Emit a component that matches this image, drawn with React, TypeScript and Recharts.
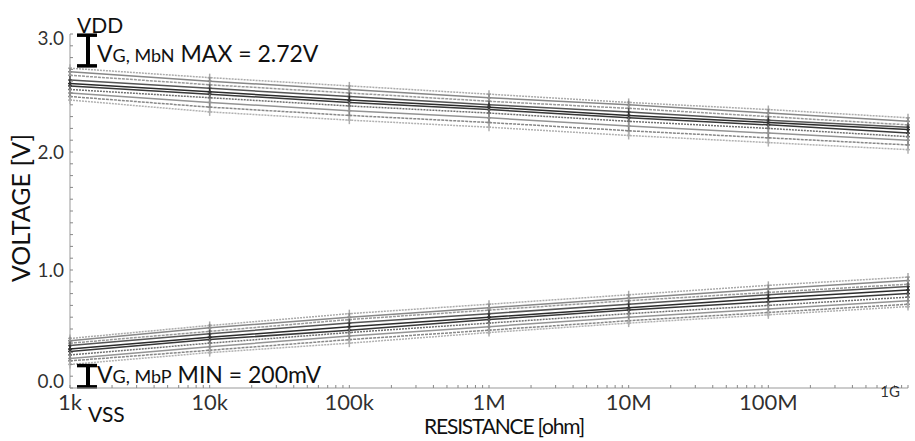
import { LineChart, Line, XAxis, YAxis, ReferenceLine } from 'recharts';

// resistance sweep points (ohm)
const RESISTANCE = [1e3, 1e4, 1e5, 1e6, 1e7, 1e8, 1e9];
const DECADE_LABELS = ['1k', '10k', '100k', '1M', '10M', '100M', '1G'];
const Y_LABELS = [0, 1, 2, 3];

// upper band: V_G of MbN, one list per corner/run
const UPPER = [
  [2.71, 2.63, 2.56, 2.49, 2.42, 2.36, 2.29],
  [2.68, 2.60, 2.53, 2.46, 2.40, 2.33, 2.26],
  [2.65, 2.57, 2.50, 2.43, 2.37, 2.30, 2.23],
  [2.61, 2.54, 2.47, 2.40, 2.34, 2.27, 2.21],
  [2.58, 2.51, 2.44, 2.38, 2.31, 2.25, 2.19],
  [2.56, 2.49, 2.42, 2.36, 2.29, 2.23, 2.16],
  [2.53, 2.46, 2.39, 2.33, 2.26, 2.20, 2.13],
  [2.50, 2.42, 2.35, 2.29, 2.22, 2.16, 2.10],
  [2.47, 2.38, 2.31, 2.25, 2.18, 2.12, 2.06],
  [2.44, 2.34, 2.27, 2.21, 2.14, 2.08, 2.02],
];

// lower band: V_G of MbP
const LOWER = [
  [0.42, 0.53, 0.63, 0.71, 0.79, 0.87, 0.94],
  [0.40, 0.51, 0.60, 0.68, 0.76, 0.84, 0.91],
  [0.38, 0.48, 0.58, 0.66, 0.74, 0.81, 0.88],
  [0.36, 0.46, 0.55, 0.63, 0.71, 0.79, 0.86],
  [0.33, 0.43, 0.52, 0.60, 0.68, 0.76, 0.83],
  [0.31, 0.41, 0.49, 0.58, 0.66, 0.73, 0.80],
  [0.28, 0.38, 0.47, 0.55, 0.63, 0.70, 0.77],
  [0.25, 0.35, 0.44, 0.52, 0.60, 0.67, 0.74],
  [0.23, 0.32, 0.41, 0.49, 0.57, 0.64, 0.71],
  [0.20, 0.30, 0.38, 0.47, 0.55, 0.62, 0.69],
];

const VG_MBN_MAX = 2.72;
const VG_MBP_MIN = 0.2;
const VDD = 3.0;
const VSS = 0.0;

const SHADES = ['#aaa', '#888', '#999', '#555', '#2a2a2a', '#383838', '#707070', '#949494', '#888', '#b0b0b0'];
const DASHES = ['2 1', undefined, '3 1', undefined, undefined, undefined, '2 1', undefined, '3 1', '2 1'];

const data = RESISTANCE.map((r, i) => {
  const row: Record<string, number> = { r };
  UPPER.forEach((s, k) => (row['u' + k] = s[i]));
  LOWER.forEach((s, k) => (row['l' + k] = s[i]));
  return row;
});

const xTicks: number[] = [];
RESISTANCE.forEach((d, i) => {
  xTicks.push(d);
  if (i < RESISTANCE.length - 1) for (let m = 2; m <= 9; m++) xTicks.push(d * m);
});
const yTicks: number[] = [];
for (let i = 0; i <= 30; i++) yTicks.push(i / 10);

const FONT = 'Lato, "Open Sans", sans-serif';
const labelStyle = { fontFamily: FONT, fontWeight: 400, fill: '#000', fillOpacity: 0.82, stroke: 'none' };

const XTick = (props: any) => {
  const { x, y, payload } = props;
  const idx = RESISTANCE.indexOf(payload.value);
  return (
    <g>
      <line x1={x} x2={x} y1={y} y2={y - 3} stroke="#888" />
      {idx === 6 ? (
        <text x={x - 8} y={y + 9} textAnchor="end" fontSize={15} style={labelStyle}>{DECADE_LABELS[idx]}</text>
      ) : idx >= 0 ? (
        <text x={x} y={y + 22} textAnchor="middle" fontSize={22} style={labelStyle}>{DECADE_LABELS[idx]}</text>
      ) : null}
    </g>
  );
};

const YTick = (props: any) => {
  const { x, y, payload } = props;
  const v = Math.round(payload.value * 10) / 10;
  const isMajor = Y_LABELS.includes(v);
  const dy = v === 0 ? 0 : v === 3 ? 11 : 7;
  return (
    <g>
      <line x1={x} x2={x + 3} y1={y} y2={y} stroke="#888" />
      {isMajor && (
        <text x={x - 6} y={y + dy} textAnchor="end" fontSize={19} style={labelStyle}>{v.toFixed(1)}</text>
      )}
    </g>
  );
};

const CrossDot = (props: any) => {
  const { cx, cy, stroke } = props;
  if (cx == null || cy == null) return null;
  return (
    <g>
      <line x1={cx} x2={cx} y1={cy - 4} y2={cy + 4} stroke={stroke} strokeWidth={1.5} />
      <line x1={cx - 2} x2={cx + 2} y1={cy} y2={cy} stroke={stroke} strokeWidth={1.5} />
    </g>
  );
};

// x positions of the I-beam markers, just right of 1k
const BEAM_X = 1345;
const BEAM_L = 1122;
const BEAM_R = 1560;

const App = () => {
  return (
    <div style={{ position: 'absolute', left: 0, top: 0, width: 915, height: 441 }}>
      <LineChart width={915} height={441} data={data} margin={{ top: 34, right: 7, bottom: 0, left: 0 }}>
        <XAxis
          dataKey="r"
          type="number"
          scale="log"
          domain={[1e3, 1e9]}
          ticks={xTicks}
          interval={0}
          tick={<XTick />}
          tickLine={false}
          tickSize={0}
          tickMargin={0}
          axisLine={{ stroke: '#999' }}
          height={53}
        />
        <YAxis
          type="number"
          domain={[0, 3]}
          ticks={yTicks}
          interval={0}
          tick={<YTick />}
          tickLine={false}
          tickSize={0}
          tickMargin={0}
          axisLine={{ stroke: '#999' }}
          width={70}
        />
        {UPPER.map((_, k) => (
          <Line key={'u' + k} dataKey={'u' + k} type="linear" stroke={SHADES[k]} strokeWidth={1.5}
            strokeDasharray={DASHES[k]} dot={<CrossDot />} isAnimationActive={false} />
        ))}
        {LOWER.map((_, k) => (
          <Line key={'l' + k} dataKey={'l' + k} type="linear" stroke={SHADES[k]} strokeWidth={1.5}
            strokeDasharray={DASHES[k]} dot={<CrossDot />} isAnimationActive={false} />
        ))}
        <ReferenceLine segment={[{ x: BEAM_X, y: VDD }, { x: BEAM_X, y: VG_MBN_MAX }]} stroke="#000" strokeWidth={4} />
        <ReferenceLine segment={[{ x: BEAM_L, y: VDD - 0.01 }, { x: BEAM_R, y: VDD - 0.01 }]} stroke="#000" strokeWidth={3.5} />
        <ReferenceLine segment={[{ x: BEAM_L, y: VG_MBN_MAX + 0.01 }, { x: BEAM_R, y: VG_MBN_MAX + 0.01 }]} stroke="#000" strokeWidth={3.5} />
        <ReferenceLine segment={[{ x: BEAM_X, y: VG_MBP_MIN }, { x: BEAM_X, y: VSS }]} stroke="#000" strokeWidth={4} />
        <ReferenceLine segment={[{ x: BEAM_L, y: VG_MBP_MIN - 0.01 }, { x: BEAM_R, y: VG_MBP_MIN - 0.01 }]} stroke="#000" strokeWidth={3.5} />
        <ReferenceLine segment={[{ x: BEAM_L, y: VSS + 0.01 }, { x: BEAM_R, y: VSS + 0.01 }]} stroke="#000" strokeWidth={3.5} />
      </LineChart>
      <svg width={915} height={441} style={{ position: 'absolute', left: 0, top: 0, pointerEvents: 'none' }} fontFamily={FONT} fill="#111">
        <text x={77} y={33} fontSize={21}>VDD</text>
        <text x={88} y={422} fontSize={21}>VSS</text>
        <text x={97} y={62} fontSize={23}>
          V<tspan fontSize={18}>G, MbN</tspan> MAX = 2.72V
        </text>
        <text x={97} y={383} fontSize={23}>
          V<tspan fontSize={18}>G, MbP</tspan> MIN = 200mV
        </text>
        <text transform="translate(30,208) rotate(-90)" textAnchor="middle" fontSize={25}>VOLTAGE [V]</text>
        <text x={504} y={434} textAnchor="middle" fontSize={21} letterSpacing={-1.2}>RESISTANCE [ohm]</text>
      </svg>
    </div>
  );
};

export default App;
